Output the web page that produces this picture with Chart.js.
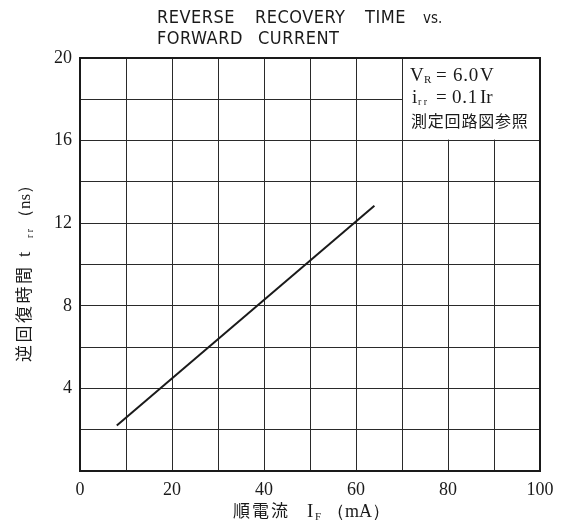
<!DOCTYPE html>
<html>
<head>
<meta charset="utf-8">
<script src="https://cdn.jsdelivr.net/npm/chart.js@4/dist/chart.umd.min.js"></script>
<style>
  html,body{margin:0;padding:0;background:#fff;}
  #wrap{width:569px;height:530px;position:relative;}
</style>
</head>
<body>
<div id="wrap"><canvas id="c" width="569" height="530"></canvas></div>
<script>
// datos
const corrienteIF = [8, 64];          // mA
const tiempoTrr  = [2.2, 12.85];     // ns
const ticksX = [0, 20, 40, 60, 80, 100];
const ticksY = [4, 8, 12, 16, 20];

const serif = '"Liberation Serif", "DejaVu Serif", serif';
const cjk = '"Noto Sans CJK JP", sans-serif';
const narrow = '"Liberation Sans Narrow", "DejaVu Sans Condensed", sans-serif';

// texto en posicion fija
function txt(ctx, t, f, x, y, esp){
  ctx.font = f;
  ctx.letterSpacing = (esp || 0) + 'px';
  ctx.fillText(t, x, y);
  ctx.letterSpacing = '0px';
}

const textos = {
  id: 'textos',
  afterDraw(chart){
    const ctx = chart.ctx, xs = chart.scales.x, ys = chart.scales.y;
    ctx.save();
    ctx.fillStyle = '#1a1a1a';
    ctx.textBaseline = 'alphabetic';
    ctx.textAlign = 'left';

    // titulo
    txt(ctx, 'REVERSE', '18px ' + narrow, 157, 23, 0.5);
    txt(ctx, 'RECOVERY', '18px ' + narrow, 255, 23, 0.5);
    txt(ctx, 'TIME', '18px ' + narrow, 365, 23, 0.5);
    txt(ctx, 'vs.', '15px ' + narrow, 423, 23, 0);
    txt(ctx, 'FORWARD', '18px ' + narrow, 157, 44, 0.5);
    txt(ctx, 'CURRENT', '18px ' + narrow, 258, 44, 0.5);

    // recuadro de condiciones
    const x0 = xs.getPixelForValue(70), x1 = xs.getPixelForValue(100);
    const y0 = ys.getPixelForValue(20), y1 = ys.getPixelForValue(16);
    ctx.fillStyle = '#fff';
    ctx.fillRect(x0 + 1, y0 + 1, x1 - x0 - 2, y1 - y0 - 2);
    ctx.fillStyle = '#1a1a1a';
    txt(ctx, 'V', '19px ' + serif, 410, 81);
    txt(ctx, 'R', '11px ' + serif, 424, 83);
    txt(ctx, '=', '19px ' + serif, 436, 81);
    txt(ctx, '6.0', '19px ' + serif, 453, 81, 0.8);
    txt(ctx, 'V', '19px ' + serif, 480, 81);
    txt(ctx, 'i', '19px ' + serif, 412, 103);
    txt(ctx, 'r r', '10px ' + serif, 418, 105);
    txt(ctx, '=', '19px ' + serif, 436, 103);
    txt(ctx, '0.1', '19px ' + serif, 452, 103, 0.8);
    txt(ctx, 'Ir', '19px ' + serif, 480, 103);
    txt(ctx, '測定回路図参照', '16px ' + cjk, 411, 127, 0.8);

    // titulo eje x
    txt(ctx, '順電流', '17px ' + cjk, 233, 517, 2);
    txt(ctx, 'I', '19px ' + serif, 307, 517);
    txt(ctx, 'F', '11px ' + serif, 315, 520);
    txt(ctx, '（mA）', '18px ' + serif, 327, 517);

    // titulo eje y
    ctx.translate(30, 362);
    ctx.rotate(-Math.PI/2);
    txt(ctx, '逆回復時間', '17px ' + cjk, 0, 0, 2.5);
    txt(ctx, 't', '19px ' + serif, 105, 0);
    txt(ctx, 'r r', '10px ' + serif, 124, 3);
    txt(ctx, '（ns）', '17px ' + serif, 136, 0);
    ctx.restore();

    // marco
    ctx.save();
    ctx.strokeStyle = '#1a1a1a';
    ctx.lineWidth = 2;
    const a = chart.chartArea;
    ctx.strokeRect(a.left, a.top, a.right - a.left, a.bottom - a.top);
    ctx.restore();
  }
};

new Chart(document.getElementById('c'), {
  type: 'scatter',
  data: {
    datasets: [{
      data: corrienteIF.map((v, i) => ({x: v, y: tiempoTrr[i]})),
      showLine: true,
      borderColor: '#1a1a1a',
      borderWidth: 2,
      pointRadius: 0,
      fill: false
    }]
  },
  options: {
    responsive: false,
    animation: false,
    layout: {padding: {top: 58, right: 29, bottom: 0, left: 0}},
    plugins: {legend: {display: false}, tooltip: {enabled: false}},
    scales: {
      x: {
        type: 'linear', min: 0, max: 100,
        afterFit: s => { s.height = 59; },
        grid: {color: '#2a2a2a', lineWidth: 1, drawTicks: false},
        border: {display: false},
        ticks: {
          stepSize: 10, padding: 8, color: '#1a1a1a',
          font: {family: serif, size: 18},
          callback: v => ticksX.includes(v) ? String(v) : ''
        }
      },
      y: {
        type: 'linear', min: 0, max: 20,
        afterFit: s => { s.width = 80; },
        grid: {color: '#2a2a2a', lineWidth: 1, drawTicks: false},
        border: {display: false},
        ticks: {
          stepSize: 2, padding: 8, color: '#1a1a1a',
          font: {family: serif, size: 18},
          callback: v => ticksY.includes(v) ? String(v) : ''
        }
      }
    }
  },
  plugins: [textos]
});
</script>
</body>
</html>
